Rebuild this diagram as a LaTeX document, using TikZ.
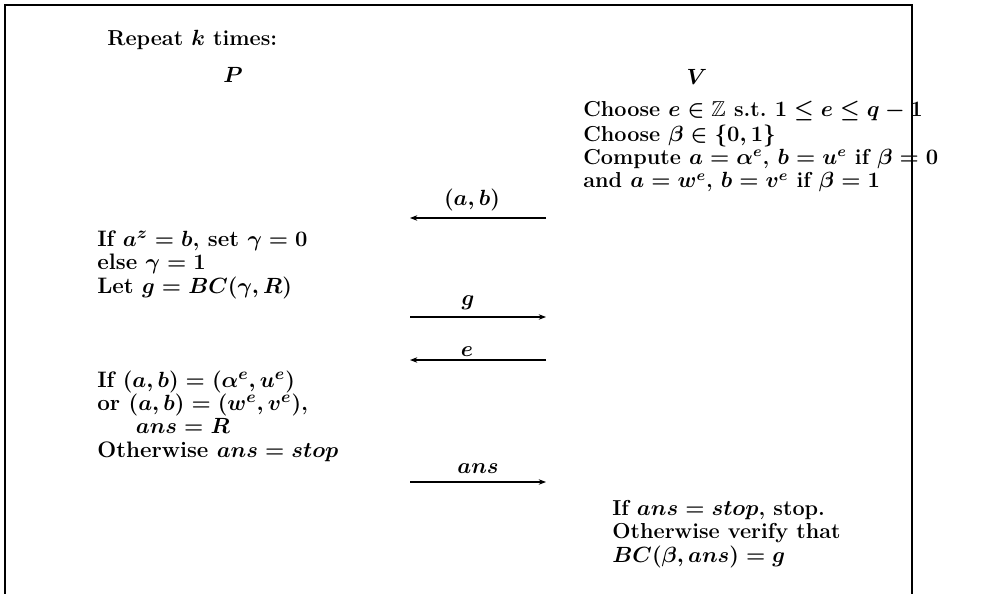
\documentclass[tikz,border=0pt]{standalone}
\usepackage{amsmath}
\usepackage{amssymb}
\usepackage{tikz}
\usetikzlibrary{arrows.meta}

\tikzset{
  bigbold/.style={font=\fontsize{11.8}{12.6}\selectfont\bfseries\boldmath},
  txt/.style={bigbold, anchor=base west, align=left, inner sep=0pt},
  ptxt/.style={txt, font=\fontsize{12.2}{12.6}\selectfont\bfseries\boldmath},
  msg/.style={-{Stealth[length=4pt,width=3pt]}, line width=0.6pt},
  msglabel/.style={bigbold, midway, anchor=base, inner sep=0pt}
}

\begin{document}
\begin{tikzpicture}[x=0.01917cm, y=-0.01917cm]
        \useasboundingbox (0,0) rectangle (993,594);

        % Frame (open at the bottom)
        \draw[line width=0.8pt] (5,594) -- (5,5) -- (912,5) -- (912,594);

        % Heading and parties
        \node[txt] (rep) at (107,46) {Repeat $k$ times:};
        \node[bigbold] (P) at (233,75) {$P$};
        \node[bigbold] (V) at (697,77) {$V$};

        % Verifier, first step (base = last line)
        \node[txt] (vstart) at (583,188) {Choose $e\in\mathbb{Z}$ s.t.\ $1\le e\le q-1$\\[1.2pt]
            Choose $\beta\in\{0,1\}$\\
            Compute $a=\alpha^e$, $b=u^e$ if $\beta=0$\\
            and $a=w^e$, $b=v^e$ if $\beta=1$};

        % Prover, bit commitment
        \node[ptxt] (pcommit) at (97,293) {If $a^z=b$, set $\gamma=0$\\
            else $\gamma=1$\\
            Let $g=BC(\gamma,R)$};

        % Prover, answer
        \node[ptxt] (panswer) at (97,457) {If $(a,b)=(\alpha^e,u^e)$\\
            or $(a,b)=(w^e,v^e)$,\\
            \hspace*{21pt}$ans=R$\\
            Otherwise $ans=stop$};

        % Verifier, check
        \node[txt] (vcheck) at (612,562) {If $ans=stop$, stop.\\
            Otherwise verify that\\
            $BC(\beta,ans)=g$};

        % Messages
        \coordinate (pab) at (410,218);
        \coordinate (vab) at (546,218);
        \coordinate (pg) at (410,317);
        \coordinate (vg) at (546,317);
        \coordinate (pe) at (410,360);
        \coordinate (ve) at (546,360);
        \coordinate (pans) at (410,482);
        \coordinate (vans) at (546,482);

        \draw[msg] (vab) -- node[msglabel, xshift=-3.3pt, yshift=7pt] {$(a,b)$} (pab);
        \draw[msg] (pg) -- node[msglabel, xshift=-5.5pt, yshift=6.5pt] {$g$} (vg);
        \draw[msg] (ve) -- node[msglabel, xshift=-6pt, yshift=2pt] {$e$} (pe);
        \draw[msg] (pans) -- node[msglabel, yshift=4.8pt] {$ans$} (vans);

    \end{tikzpicture}
\end{document}
